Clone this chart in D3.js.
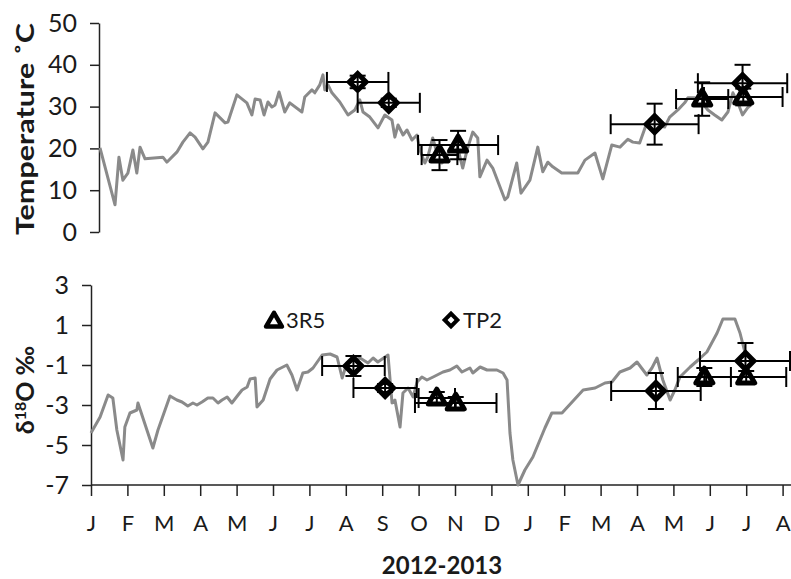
<!DOCTYPE html>
<html>
<head>
<meta charset="utf-8">
<script src="https://cdn.jsdelivr.net/npm/d3@7"></script>
<style>
  html, body { margin: 0; padding: 0; background: #fff; }
  svg { display: block; }
  text { font-family: Lato, "Open Sans", sans-serif; fill: #1a1a1a; }
</style>
</head>
<body>
<svg id="chart" width="791" height="579"></svg>
<script>
// ---- data (month index: 0 = Jan 2012) ----
const monthLabels = ["J","F","M","A","M","J","J","A","S","O","N","D","J","F","M","A","M","J","J","A"];
const tempTicks = [0, 10, 20, 30, 40, 50];
const d18Ticks = [-7, -5, -3, -1, 1, 3];

const tempMonth = [0.0,0.42,0.53,0.64,0.78,0.92,1.03,1.12,1.26,1.76,1.87,2.15,2.32,2.52,2.66,2.88,3.02,3.22,3.50,3.58,3.83,4.11,4.25,4.34,4.48,4.59,4.70,4.81,4.90,5.01,5.17,5.31,5.65,5.73,5.93,6.01,6.15,6.24,6.29,6.38,6.49,6.71,6.94,7.13,7.27,7.36,7.55,7.78,7.97,8.17,8.25,8.34,8.48,8.59,8.73,8.87,8.95,9.09,9.17,9.31,9.43,9.57,9.79,9.99,10.15,10.27,10.43,10.57,10.63,10.83,10.99,11.33,11.41,11.66,11.78,12.03,12.25,12.39,12.53,12.67,12.92,13.37,13.57,13.85,14.07,14.32,14.55,14.77,14.91,15.10,15.30,15.44,15.61,15.80,15.94,16.17,16.36,16.45,16.64,16.78,17.01,17.20,17.40,17.57,17.71,17.85,17.98,18.12,18.27];
const tempC = [20.1,6.5,17.9,12.4,14.1,19.6,14.1,20.3,17.5,17.9,16.7,19.1,21.5,23.7,22.7,19.9,21.5,28.5,26.1,26.3,32.8,30.9,28.0,31.8,31.6,28.0,31.1,29.9,30.4,33.5,28.7,30.9,28.7,32.3,34.0,33.3,35.2,37.6,34.0,35.2,33.3,31.1,28.0,29.2,31.6,28.7,27.5,24.9,28.0,26.8,22.7,25.6,23.2,24.4,22.0,23.2,19.6,16.5,17.9,22.5,18.9,16.5,19.6,20.8,15.3,19.6,23.9,22.5,13.2,17.2,15.3,7.7,8.4,16.5,9.3,12.4,20.3,14.4,16.7,15.6,14.1,14.1,17.2,18.9,12.7,20.8,20.3,22.2,21.5,21.3,26.1,24.4,25.6,25.1,27.5,29.2,30.9,32.1,32.1,31.6,29.2,28.0,26.8,28.7,33.3,30.9,28.0,29.7,30.9];

const d18Month = [0,0.25,0.47,0.60,0.71,0.88,0.93,1.07,1.26,1.29,1.70,1.84,2.17,2.36,2.50,2.66,2.80,2.91,3.05,3.21,3.35,3.49,3.60,3.74,3.87,4.04,4.15,4.29,4.37,4.51,4.56,4.73,4.92,5.11,5.38,5.52,5.66,5.82,5.96,6.10,6.35,6.57,6.76,6.90,7.03,7.25,7.39,7.61,7.75,7.88,8.08,8.16,8.27,8.35,8.49,8.57,8.71,8.85,8.96,9.09,9.23,9.40,9.67,9.86,10.05,10.19,10.41,10.49,10.69,10.88,11.15,11.32,11.43,11.51,11.59,11.73,11.92,12.14,12.47,12.66,12.94,13.52,13.85,14.12,14.31,14.53,14.81,15.00,15.27,15.41,15.55,15.71,15.91,16.04,16.18,16.46,16.68,16.92,17.20,17.36,17.69,17.83,17.97,18.05];
const d18Value = [-4.4,-3.6,-2.5,-2.65,-4.25,-5.75,-4.1,-3.4,-3.25,-2.9,-5.15,-4.25,-2.55,-2.75,-2.85,-3.05,-2.9,-3.0,-2.85,-2.65,-2.65,-2.9,-2.75,-2.6,-2.9,-2.5,-2.25,-2.1,-1.7,-1.65,-3.1,-2.75,-1.7,-1.25,-1.0,-1.5,-2.25,-1.4,-1.35,-1.15,-0.5,-0.45,-0.6,-1.65,-0.9,-0.75,-0.65,-0.9,-0.65,-0.85,-0.6,-0.5,-2.9,-2.75,-4.1,-2.4,-2.15,-2.6,-1.85,-1.6,-1.75,-1.6,-1.35,-1.25,-1.05,-1.35,-1.15,-1.4,-1.1,-1.25,-1.25,-1.4,-1.75,-4.4,-5.75,-7.0,-6.25,-5.6,-4.15,-3.4,-3.4,-2.25,-2.15,-1.9,-1.85,-1.35,-1.15,-0.85,-1.5,-1.15,-0.65,-1.75,-2.75,-2.25,-1.6,-1.1,-0.75,-0.35,0.6,1.3,1.3,0.6,-0.4,-0.65];

// samples: TP2 (diamonds) and 3R5 (triangles)
const tp2Month    = [7.21, 8.08, 15.52, 17.98];
const tp2MonthErr = [0.86, 0.87, 1.23, 1.25];
const tp2Temp     = [35.9, 30.9, 25.8, 35.6];
const tp2TempErr  = [1.5, 1.0, 4.9, 4.4];
const tp2D18      = [-1.05, -2.15, -2.3, -0.8];
const tp2D18Err   = [0.5, 0.2, 0.9, 0.9];

const r35Month    = [9.5, 10.02, 16.85, 18.0];
const r35MonthErr = [0.5, 1.12, 0.73, 1.1];
const r35Temp     = [18.4, 20.8, 31.8, 32.3];
const r35TempErr  = [3.6, 3.4, 4.0, 2.0];
const r35D18      = [-2.65, -2.9, -1.6, -1.6];
const r35D18Err   = [0.3, 0.3, 0.45, 0.3];

// ---- drawing ----
const svg = d3.select("#chart");
const xTop = d3.scaleLinear().domain([0, 19]).range([100, 779]);
const xBot = d3.scaleLinear().domain([0, 19]).range([91, 782.6]);
const yTop = d3.scaleLinear().domain([0, 50]).range([232, 23]);
const yBot = d3.scaleLinear().domain([-7, 3]).range([485, 285]);

const LINE = "#8a8a8a";
const numFmt = d => (d < 0 ? "-" + Math.abs(d) : String(d));

function styleAxis(g, fs) {
  g.selectAll("path.domain").attr("stroke", "#222").attr("stroke-width", 1.5);
  g.selectAll(".tick line").attr("stroke", "#222").attr("stroke-width", 1.5);
  g.selectAll(".tick text").style("font-size", fs + "px").attr("fill", "#1a1a1a");
}

// top y axis
const gTopY = svg.append("g").attr("transform", `translate(${xTop.range()[0] - 1},0)`)
  .call(d3.axisLeft(yTop).tickValues(tempTicks).tickFormat(numFmt).tickSize(9).tickSizeOuter(0).tickPadding(13));
styleAxis(gTopY, 25);

// bottom y axis
const gBotY = svg.append("g").attr("transform", `translate(${xBot.range()[0]},0)`)
  .call(d3.axisLeft(yBot).tickValues(d18Ticks).tickFormat(numFmt).tickSize(9).tickSizeOuter(0).tickPadding(13));
styleAxis(gBotY, 25);

// bottom x axis
const gBotX = svg.append("g").attr("transform", `translate(0,${yBot(-7)})`)
  .call(d3.axisBottom(xBot).tickValues(d3.range(monthLabels.length)).tickFormat(i => monthLabels[i])
        .tickSize(11).tickSizeOuter(0).tickPadding(19));
styleAxis(gBotX, 22);
gBotX.select("path.domain").remove();
gBotX.append("line").attr("x1", xBot(0)).attr("x2", 791).attr("y1", 0).attr("y2", 0)
  .attr("stroke", "#222").attr("stroke-width", 1.5);

// lines
const tempData = tempMonth.map((m, i) => [m, tempC[i]]);
const d18Data = d18Month.map((m, i) => [m, d18Value[i]]);
svg.append("path").datum(tempData)
  .attr("d", d3.line().x(d => xTop(d[0])).y(d => yTop(d[1])))
  .attr("fill", "none").attr("stroke", LINE).attr("stroke-width", 3).attr("stroke-linejoin", "round");
svg.append("path").datum(d18Data)
  .attr("d", d3.line().x(d => xBot(d[0])).y(d => yBot(d[1])))
  .attr("fill", "none").attr("stroke", LINE).attr("stroke-width", 3).attr("stroke-linejoin", "round");

// markers + error bars
const triSym = d3.symbol().type(d3.symbolTriangle).size(125)();
const diaSym = d3.symbol().type(d3.symbolSquare).size(140)();

function drawSeries(xs, ys, months, mErr, vals, vErr, kind) {
  const g = svg.append("g");
  months.forEach((m, i) => {
    const cx = xs(m), cy = ys(vals[i]);
    g.append("path")
      .attr("d", kind === "tri" ? triSym : diaSym)
      .attr("fill", "#fff").attr("stroke", "#000").attr("stroke-width", 5)
      .attr("stroke-linejoin", kind === "tri" ? "round" : "miter")
      .attr("transform", kind === "tri" ? `translate(${cx},${cy + 1})` : `translate(${cx},${cy}) rotate(45)`);
  });
  const eb = svg.append("g").attr("stroke", "#000").attr("stroke-width", 2);
  months.forEach((m, i) => {
    const cx = xs(m), cy = ys(vals[i]);
    const x1 = xs(m - mErr[i]), x2 = Math.min(xs(m + mErr[i]), 790);
    const y1 = ys(vals[i] + vErr[i]), y2 = ys(vals[i] - vErr[i]);
    eb.append("line").attr("x1", x1).attr("x2", x2).attr("y1", cy).attr("y2", cy);
    eb.append("line").attr("x1", x1).attr("x2", x1).attr("y1", cy - 10).attr("y2", cy + 10);
    eb.append("line").attr("x1", x2).attr("x2", x2).attr("y1", cy - 10).attr("y2", cy + 10);
    eb.append("line").attr("x1", cx).attr("x2", cx).attr("y1", y1).attr("y2", y2);
    eb.append("line").attr("x1", cx - 8).attr("x2", cx + 8).attr("y1", y1).attr("y2", y1);
    eb.append("line").attr("x1", cx - 8).attr("x2", cx + 8).attr("y1", y2).attr("y2", y2);
  });
}
drawSeries(xTop, yTop, tp2Month, tp2MonthErr, tp2Temp, tp2TempErr, "dia");
drawSeries(xTop, yTop, r35Month, r35MonthErr, r35Temp, r35TempErr, "tri");
drawSeries(xBot, yBot, tp2Month, tp2MonthErr, tp2D18, tp2D18Err, "dia");
drawSeries(xBot, yBot, r35Month, r35MonthErr, r35D18, r35D18Err, "tri");

// legend
const leg = svg.append("g");
leg.append("path").attr("d", d3.symbol().type(d3.symbolTriangle).size(110)()).attr("transform", "translate(274,322)")
  .attr("fill", "#fff").attr("stroke", "#000").attr("stroke-width", 4.5).attr("stroke-linejoin", "round");
leg.append("text").attr("x", 286).attr("y", 328).style("font-size", "22px").text("3R5");
leg.append("path").attr("d", d3.symbol().type(d3.symbolSquare).size(80)()).attr("transform", "translate(451,320) rotate(45)")
  .attr("fill", "#fff").attr("stroke", "#000").attr("stroke-width", 4);
leg.append("text").attr("x", 463).attr("y", 328).style("font-size", "22px").text("TP2");

// axis titles
svg.append("text").attr("transform", "translate(34,129) rotate(-90)")
  .attr("text-anchor", "middle").style("font-size", "25px").style("font-weight", "bold")
  .attr("textLength", 212).attr("lengthAdjust", "spacingAndGlyphs")
  .text("Temperature ˚C");
const d18t = svg.append("text").attr("transform", "translate(34,390) rotate(-90)")
  .attr("text-anchor", "middle").style("font-size", "25px").style("font-weight", "bold");
d18t.append("tspan").text("δ");
d18t.append("tspan").attr("dy", -8).style("font-size", "16px").text("18");
d18t.append("tspan").attr("dy", 8).text("O ‰");

svg.append("text").attr("x", 442).attr("y", 574).attr("text-anchor", "middle")
  .style("font-size", "24px").style("font-weight", "bold").text("2012-2013");
</script>
</body>
</html>
